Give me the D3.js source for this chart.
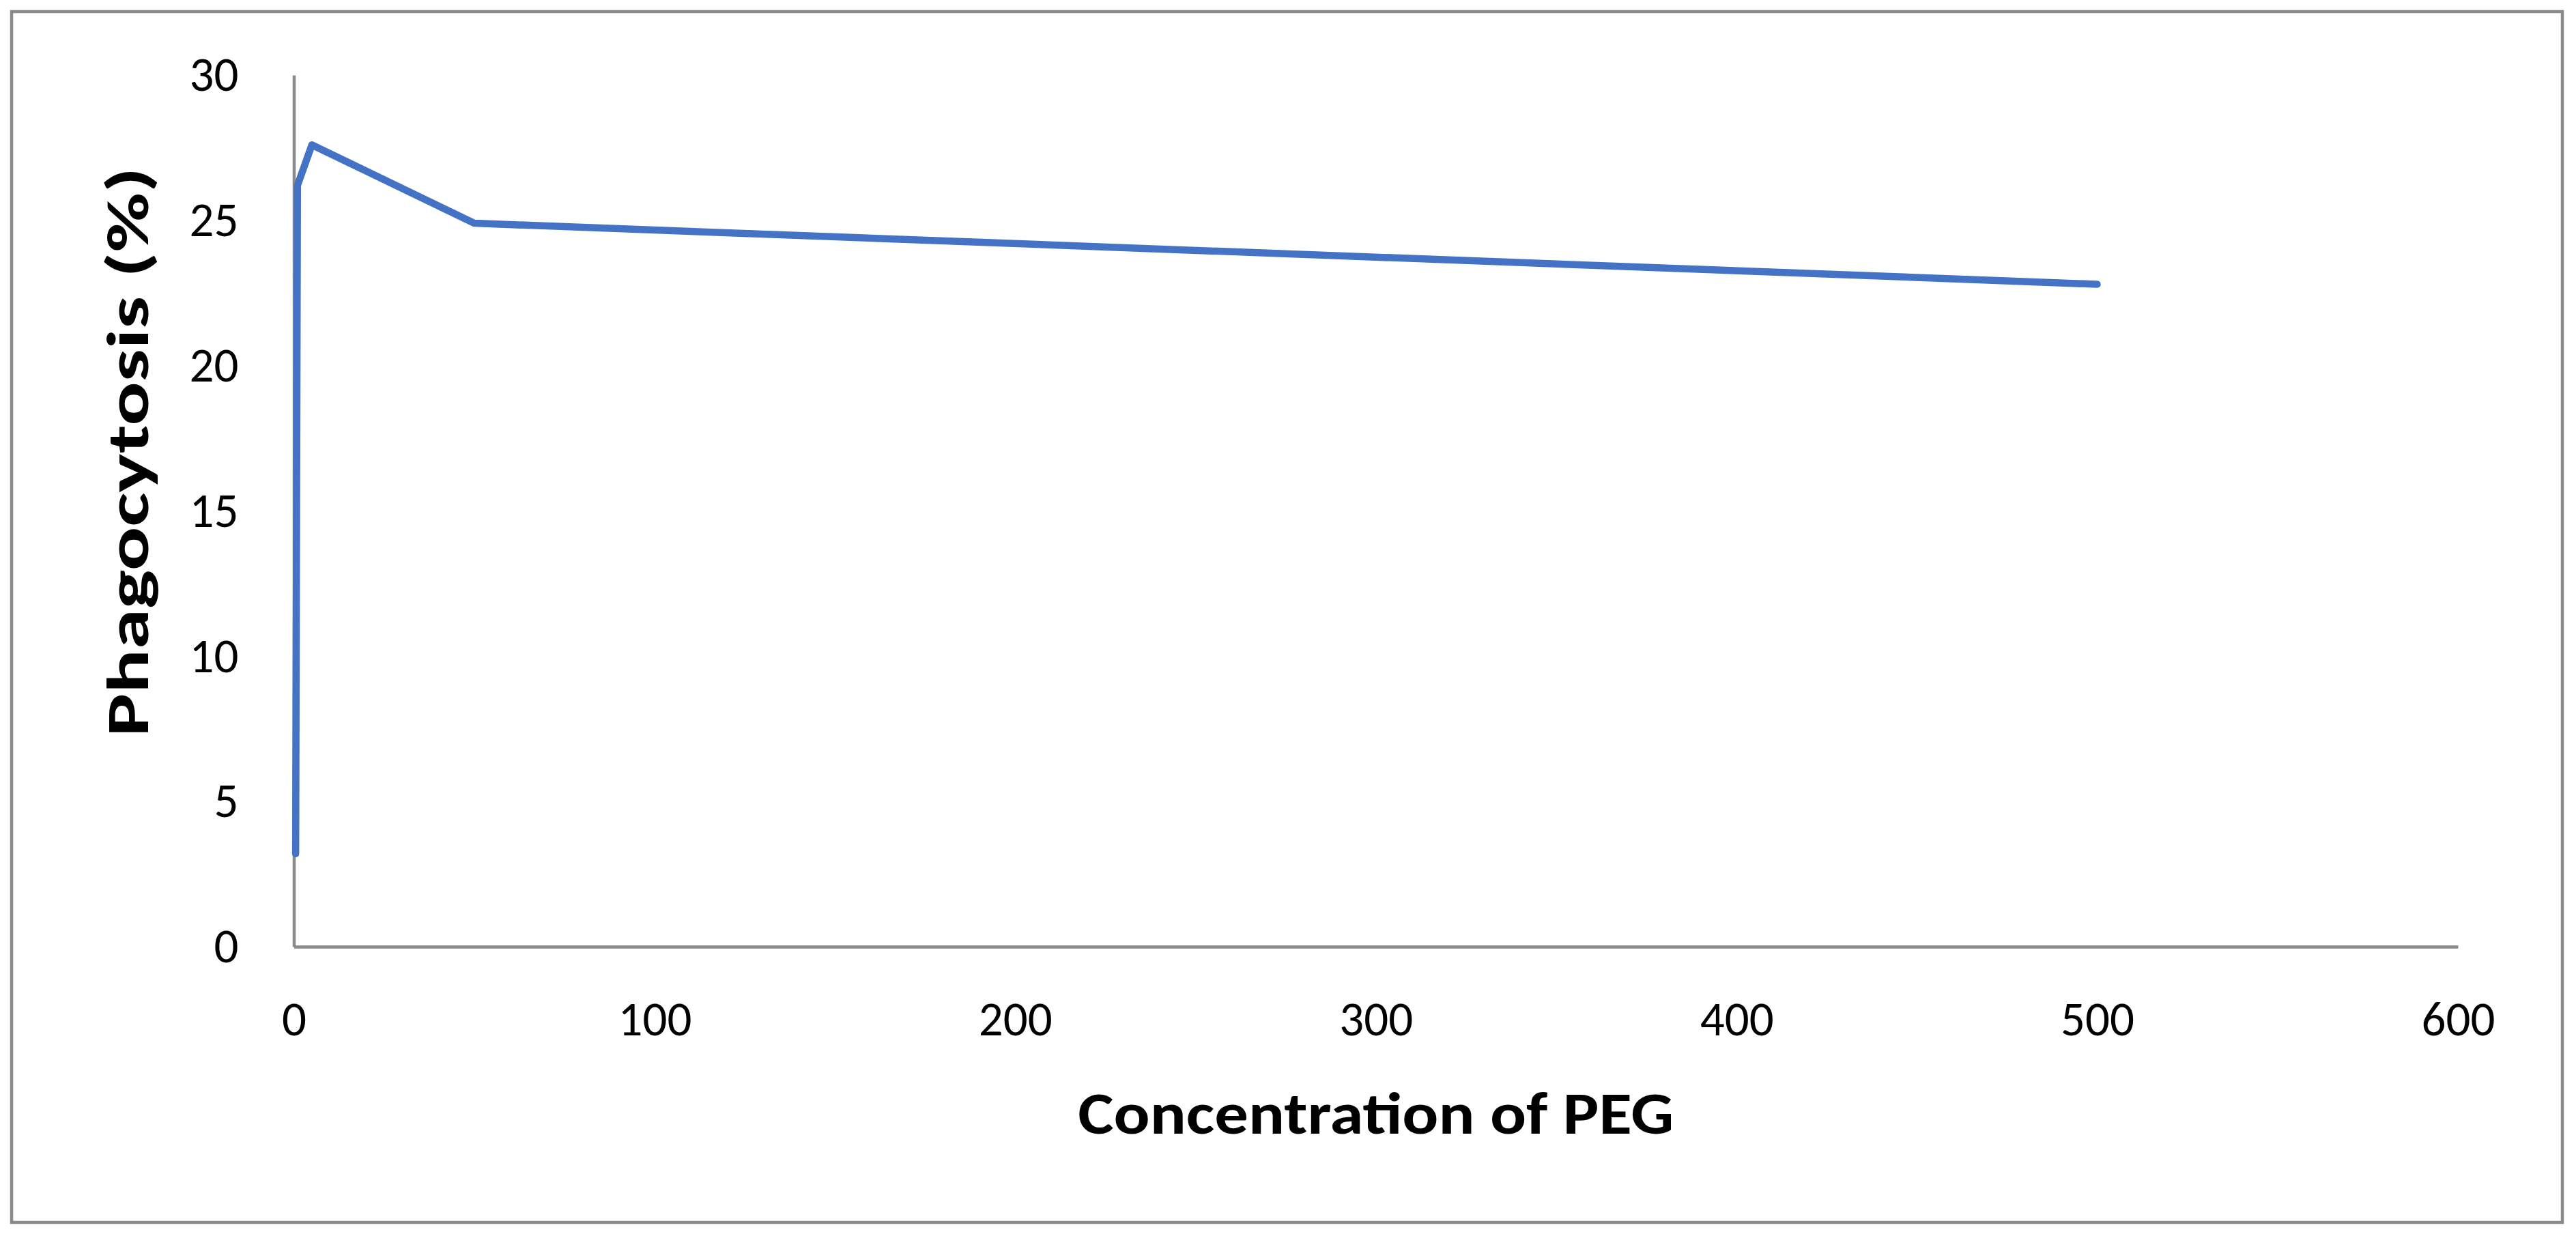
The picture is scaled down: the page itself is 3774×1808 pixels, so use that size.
<!DOCTYPE html>
<html>
<head>
<meta charset="utf-8">
<script src="https://cdn.jsdelivr.net/npm/d3@7"></script>
<style>
body{margin:0;background:#fff;}
svg{display:block;font-family:Carlito,Calibri,Lato,sans-serif;}
</style>
</head>
<body>
<div id="chart"></div>
<script>
/* data */
const concentration = [0.5, 1, 5, 50, 500];
const phagocytosis = [3.2, 26.2, 27.6, 24.9, 22.8];
const xTicks = [0, 100, 200, 300, 400, 500, 600];
const yTicks = [0, 5, 10, 15, 20, 25, 30];
const xTitle = "Concentration of PEG";
const yTitle = "Phagocytosis (%)";

const W = 3774, H = 1808;
var margin = {top:110,right:173,bottom:421,left:430.5},
w = W - margin.left - margin.right,
h = H - margin.top - margin.bottom;
const grey = "#898989";

var svg = d3.select("#chart")
.append("svg")
.attr("width",W)
.attr("height",H);

// outer frame
svg.append("rect")
.attr("x",17).attr("y",17)
.attr("width",W-17-20).attr("height",H-17-17)
.attr("fill","#fff")
.attr("stroke",grey)
.attr("stroke-width",4.5);

var g = svg.append("g")
.attr("transform",`translate(${margin.left},${margin.top})`);

var xScale = d3.scaleLinear().domain([0,600]).range([0,w]);
var yScale = d3.scaleLinear().domain([0,30]).range([h,0]);

var xAxis = g.append("g")
.attr("transform","translate(0,"+h+")")
.call(d3.axisBottom(xScale).tickValues(xTicks).tickSize(0).tickPadding(80).tickFormat(d3.format("d")));
var yAxis = g.append("g")
.call(d3.axisLeft(yScale).tickValues(yTicks).tickSize(0).tickPadding(81).tickFormat(d3.format("d")));

[xAxis,yAxis].forEach(function(ax){
    ax.select(".domain").attr("stroke",grey).attr("stroke-width",4.5);
    ax.selectAll("text")
    .attr("font-size","71px")
    .attr("font-family","Carlito,Calibri,Lato,sans-serif")
    .attr("fill","#000");
});

// series line
var line = d3.line()
.x(function(d,i){return xScale(concentration[i]);})
.y(function(d){return yScale(d);});

g.append("path")
.datum(phagocytosis)
.attr("d",line)
.attr("fill","none")
.attr("stroke","#4472C4")
.attr("stroke-width",10.5)
.attr("stroke-linejoin","round")
.attr("stroke-linecap","round");

// axis titles
svg.append("text")
.text(xTitle)
.attr("x",margin.left+w/2)
.attr("y",1661)
.attr("text-anchor","middle")
.attr("font-weight","bold")
.attr("font-size","88px")
.attr("textLength",873)
.attr("lengthAdjust","spacingAndGlyphs");

svg.append("text")
.text(yTitle)
.attr("transform","translate(217,662)rotate(-90)")
.attr("text-anchor","middle")
.attr("font-weight","bold")
.attr("font-size","88px")
.attr("textLength",835)
.attr("lengthAdjust","spacingAndGlyphs");
</script>
</body>
</html>
